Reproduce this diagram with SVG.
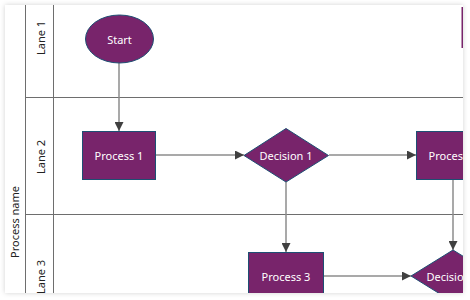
<svg xmlns="http://www.w3.org/2000/svg" width="470" height="300" viewBox="0 0 470 300">
<defs>
<filter id="sh" x="-5%" y="-5%" width="110%" height="110%">
<feDropShadow dx="0" dy="0" stdDeviation="2.5" flood-color="#000" flood-opacity="0.18"/>
</filter>
<clipPath id="card"><rect x="5" y="5" width="458" height="288"/></clipPath>
<marker id="arr" viewBox="0 0 10 10" refX="10" refY="5" markerWidth="9" markerHeight="9" markerUnits="userSpaceOnUse" orient="auto">
<path d="M0,0 L10,5 L0,10 Z" fill="#404040"/>
</marker>
<style>
.node{fill:#78246b;stroke:#1d4f73;stroke-width:1}
.lbl{font-family:"Noto Sans","Open Sans",sans-serif;font-size:11px;fill:#fff;text-anchor:middle;dominant-baseline:central}
.lane{font-family:"Noto Sans","Open Sans",sans-serif;font-size:11px;fill:#222;text-anchor:middle;dominant-baseline:central}
.grid{stroke:#6e6e6e;stroke-width:1;fill:none}
.con{stroke:#8c8c8c;stroke-width:1.5;fill:none;marker-end:url(#arr)}
</style>
</defs>
<rect x="0" y="0" width="470" height="300" fill="#fff"/>
<rect x="5" y="5" width="458" height="288" fill="#fff" filter="url(#sh)"/>
<g clip-path="url(#card)">
<g id="pool">
<line class="grid" x1="25.5" y1="0" x2="25.5" y2="300"/>
<line class="grid" x1="53.5" y1="0" x2="53.5" y2="300"/>
<line class="grid" x1="25" y1="97.5" x2="470" y2="97.5"/>
<line class="grid" x1="25" y1="214.5" x2="470" y2="214.5"/>
<text class="lane" transform="translate(14,222) rotate(-90)">Process name</text>
<text class="lane" transform="translate(40,38) rotate(-90)">Lane 1</text>
<text class="lane" transform="translate(40,157) rotate(-90)">Lane 2</text>
<text class="lane" transform="translate(40,277) rotate(-90)">Lane 3</text>
</g>
<g id="connectors">
<line class="con" x1="119" y1="63" x2="119" y2="131"/>
<line class="con" x1="156" y1="155" x2="244" y2="155"/>
<line class="con" x1="329" y1="155" x2="416" y2="155"/>
<line class="con" x1="286" y1="182" x2="286" y2="252"/>
<line class="con" x1="453" y1="179" x2="453" y2="250"/>
<line class="con" x1="324" y1="276" x2="411" y2="276"/>
</g>
<g id="start">
<ellipse class="node" cx="119.5" cy="39" rx="34" ry="24"/>
<text class="lbl" x="119.5" y="39">Start</text>
</g>
<g id="process1">
<rect class="node" x="82.5" y="131.5" width="73" height="48"/>
<text class="lbl" x="119" y="155.5">Process 1</text>
</g>
<g id="decision1">
<polygon class="node" points="286,128.5 328.5,155.5 286,182 244,155.5"/>
<text class="lbl" x="286" y="155.5">Decision 1</text>
</g>
<g id="process2">
<rect class="node" x="416.5" y="131.5" width="73" height="48"/>
<text class="lbl" x="453" y="155.5">Process 2</text>
</g>
<g id="process3">
<rect class="node" x="248.5" y="252.5" width="75" height="48"/>
<text class="lbl" x="286" y="276">Process 3</text>
</g>
<g id="decision2">
<polygon class="node" points="453,250 495,276 453,302 411,276"/>
<text class="lbl" x="453" y="276">Decision 2</text>
</g>
<g id="bar">
<rect x="461.5" y="7" width="1.5" height="41" fill="#78246b"/>
</g>
</g>
</svg>
